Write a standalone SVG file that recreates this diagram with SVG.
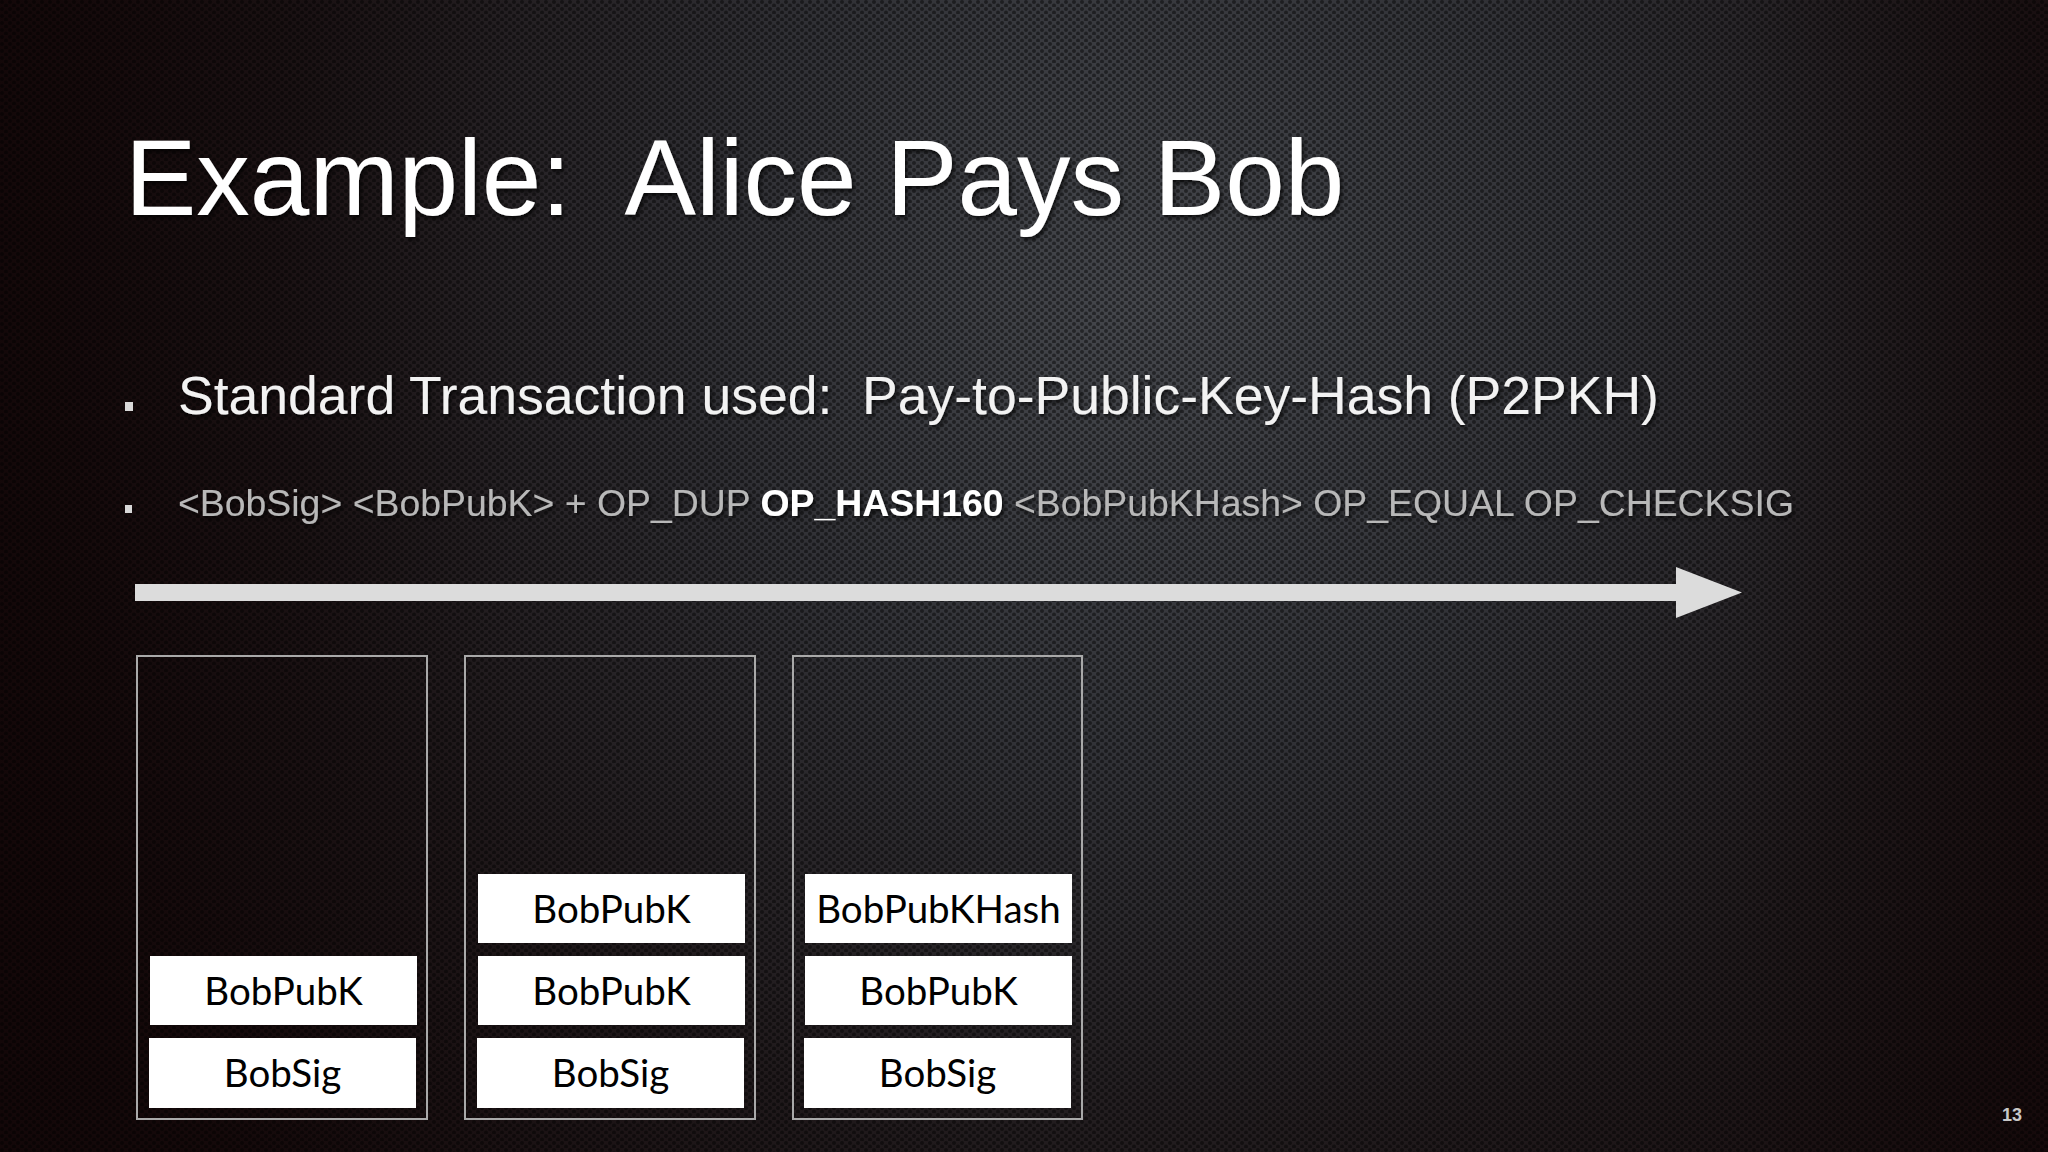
<svg xmlns="http://www.w3.org/2000/svg" width="2048" height="1152" viewBox="0 0 2048 1152">
<defs>
<radialGradient id="bg" cx="1150" cy="300" r="1250" gradientUnits="userSpaceOnUse">
<stop offset="0" stop-color="#45474c"/>
<stop offset="0.35" stop-color="#323338"/>
<stop offset="0.7" stop-color="#201a1c"/>
<stop offset="1" stop-color="#170c0d"/>
</radialGradient>
<linearGradient id="leftShade" x1="0" y1="0" x2="1" y2="0">
<stop offset="0" stop-color="#120607" stop-opacity="0.8"/>
<stop offset="0.25" stop-color="#120607" stop-opacity="0.15"/>
<stop offset="0.5" stop-color="#120607" stop-opacity="0"/>
<stop offset="0.85" stop-color="#120607" stop-opacity="0.05"/>
<stop offset="1" stop-color="#120607" stop-opacity="0.5"/>
</linearGradient>
<pattern id="mesh" width="8" height="7" patternUnits="userSpaceOnUse">
<circle cx="2" cy="2" r="2" fill="#000" fill-opacity="0.45"/>
<circle cx="6" cy="5.5" r="2" fill="#000" fill-opacity="0.45"/>
</pattern>
<filter id="shadow" x="-5%" y="-20%" width="110%" height="140%">
<feDropShadow dx="2" dy="3" stdDeviation="2" flood-color="#000" flood-opacity="0.7"/>
</filter>
<style>
.title{font-family:"Liberation Sans",Arial,sans-serif;font-size:107px;fill:#ffffff}
.b1{font-family:"Liberation Sans",Arial,sans-serif;font-size:53.5px;fill:#f2f2f2}
.b2{font-family:"Liberation Sans",Arial,sans-serif;font-size:37.4px;fill:#b8b8b8}
.b2 .hl{font-weight:bold;fill:#ffffff}
.bullet{fill:#d8d8d8}
.stack{fill:none;stroke:#a9a9a9;stroke-width:2}
.cell{fill:#ffffff}
.lbl{font-family:Lato,"Open Sans",sans-serif;font-size:38.5px;fill:#000;text-anchor:middle}
.pg{font-family:"Liberation Sans",Arial,sans-serif;font-size:18px;font-weight:bold;fill:#c8c8c8}
</style>
</defs>
<rect width="2048" height="1152" fill="url(#bg)"/>
<rect width="2048" height="1152" fill="url(#leftShade)"/>
<rect width="2048" height="1152" fill="url(#mesh)"/>

<text class="title" x="125" y="215" filter="url(#shadow)" xml:space="preserve">Example:  Alice Pays Bob</text>

<rect class="bullet" x="125" y="402" width="8" height="9"/>
<text class="b1" x="178" y="414" filter="url(#shadow)" xml:space="preserve">Standard Transaction used:  Pay-to-Public-Key-Hash (P2PKH)</text>

<rect class="bullet" x="125" y="505" width="7" height="8"/>
<text class="b2" x="178" y="516" filter="url(#shadow)">&lt;BobSig&gt; &lt;BobPubK&gt; + OP_DUP <tspan class="hl">OP_HASH160</tspan> &lt;BobPubKHash&gt; OP_EQUAL OP_CHECKSIG</text>

<g id="connectors">
<path d="M135 584 H1676 V567 L1742 592.5 L1676 618 V601 H135 Z" fill="#dcdcdc"/>
</g>

<g id="stack1">
<rect class="stack" x="137" y="656" width="290" height="463"/>
<rect class="cell" x="150" y="956" width="267" height="69"/>
<text class="lbl" x="283.5" y="1005">BobPubK</text>
<rect class="cell" x="149" y="1038" width="267" height="70"/>
<text class="lbl" x="282.5" y="1087">BobSig</text>
</g>

<g id="stack2">
<rect class="stack" x="465" y="656" width="290" height="463"/>
<rect class="cell" x="478" y="874" width="267" height="69"/>
<text class="lbl" x="611.5" y="923">BobPubK</text>
<rect class="cell" x="478" y="956" width="267" height="69"/>
<text class="lbl" x="611.5" y="1005">BobPubK</text>
<rect class="cell" x="477" y="1038" width="267" height="70"/>
<text class="lbl" x="610.5" y="1087">BobSig</text>
</g>

<g id="stack3">
<rect class="stack" x="793" y="656" width="289" height="463"/>
<rect class="cell" x="805" y="874" width="267" height="69"/>
<text class="lbl" x="938.5" y="923">BobPubKHash</text>
<rect class="cell" x="805" y="956" width="267" height="69"/>
<text class="lbl" x="938.5" y="1005">BobPubK</text>
<rect class="cell" x="804" y="1038" width="267" height="70"/>
<text class="lbl" x="937.5" y="1087">BobSig</text>
</g>

<text class="pg" x="2002" y="1121">13</text>
</svg>
